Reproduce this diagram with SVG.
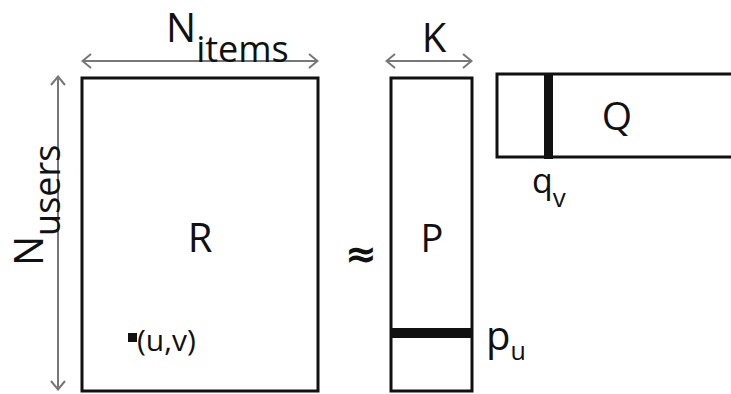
<svg xmlns="http://www.w3.org/2000/svg" width="731" height="394" viewBox="0 0 731 394">
<style>
.box{fill:none;stroke:#111;stroke-width:3}
.dim{stroke:#777;stroke-width:2;fill:none}
.t{font-family:"Open Sans","Liberation Sans",sans-serif;fill:#111}
</style>
<defs>
<marker id="chev" viewBox="0 0 12 16" refX="11" refY="8" markerWidth="12" markerHeight="16" markerUnits="userSpaceOnUse" orient="auto-start-reverse">
<path d="M2,1 L10.5,8 L2,15" fill="none" stroke="#777" stroke-width="2"/>
</marker>
</defs>
<rect width="731" height="394" fill="#fff"/>
<g id="connectors">
<line class="dim" x1="82" y1="61" x2="318" y2="61" marker-start="url(#chev)" marker-end="url(#chev)"/>
<line class="dim" x1="58" y1="76" x2="58" y2="390" marker-start="url(#chev)" marker-end="url(#chev)"/>
<line class="dim" x1="386" y1="61" x2="472" y2="61" marker-start="url(#chev)" marker-end="url(#chev)"/>
</g>
<g id="label-nitems">
<text class="t" x="166" y="42" font-size="40">N<tspan font-size="36" dy="20">items</tspan></text>
</g>
<g id="label-nusers">
<text class="t" transform="translate(43,266) rotate(-90)" font-size="40">N<tspan font-size="36" dy="17">users</tspan></text>
</g>
<g id="R">
<rect class="box" x="82" y="78" width="236" height="313"/>
<text class="t" x="200" y="252" font-size="40" text-anchor="middle">R</text>
<rect x="128" y="333" width="9" height="9" fill="#111"/>
<text class="t" x="137" y="351" font-size="30">(u,v)</text>
</g>
<g id="approx">
<text x="361" y="267" font-family="DejaVu Sans,sans-serif" font-weight="bold" font-size="38" text-anchor="middle" fill="#111">≈</text>
</g>
<g id="K">
<text class="t" x="434" y="52" font-size="40" text-anchor="middle">K</text>
</g>
<g id="P">
<rect class="box" x="391" y="78" width="81" height="313"/>
<rect x="391" y="328" width="81" height="10" fill="#111"/>
<text class="t" x="432" y="252" font-size="38" text-anchor="middle">P</text>
<text class="t" x="486" y="350" font-size="40">p<tspan font-size="25" dy="10">u</tspan></text>
</g>
<g id="Q">
<rect class="box" x="497" y="74" width="260" height="83"/>
<rect x="544" y="73" width="9" height="86" fill="#111"/>
<text class="t" x="617" y="130" font-size="39" text-anchor="middle">Q</text>
<text class="t" x="532" y="193" font-size="34">q<tspan font-size="26" dy="14">v</tspan></text>
</g>
</svg>
